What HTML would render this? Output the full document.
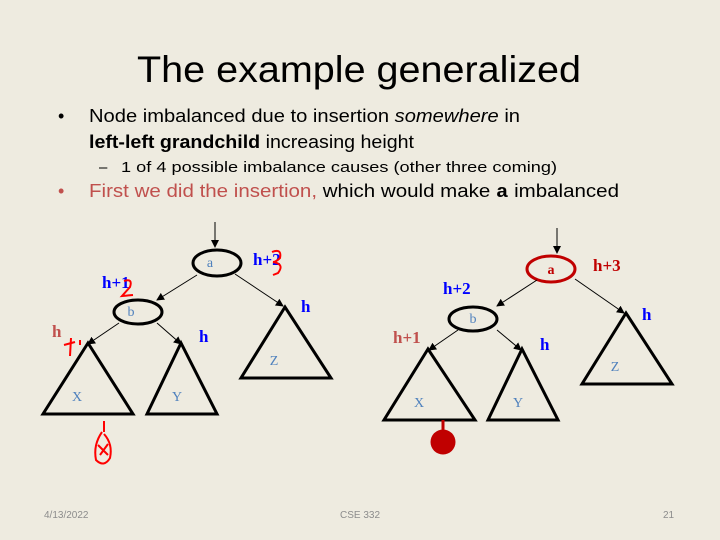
<!DOCTYPE html>
<html><head><style>
body{margin:0;background:#EEEBE0;}
svg{display:block;}
.t{font-family:"Liberation Sans",sans-serif;}
.s{font-family:"Liberation Serif",serif;}
</style></head><body>
<svg width="720" height="540" viewBox="0 0 720 540" xmlns="http://www.w3.org/2000/svg">
<defs><marker id="ar" markerWidth="8" markerHeight="8" refX="7" refY="4" orient="auto" markerUnits="userSpaceOnUse"><path d="M0,0 L8,4 L0,8 z" fill="#000"/></marker></defs>
<rect width="720" height="540" fill="#EEEBE0"/>
<text class="t" x="137" y="82" font-size="37" textLength="444" lengthAdjust="spacingAndGlyphs">The example generalized</text>
<text class="t" x="58" y="122" font-size="18">•</text>
<text class="t" x="89" y="122" font-size="18" textLength="431" lengthAdjust="spacingAndGlyphs">Node imbalanced due to insertion <tspan font-style="italic">somewhere</tspan> in</text>
<text class="t" x="89" y="148" font-size="18" textLength="325" lengthAdjust="spacingAndGlyphs"><tspan font-weight="bold">left-left grandchild</tspan> increasing height</text>
<text class="t" x="99" y="172" font-size="15">–</text>
<text class="t" x="121" y="172" font-size="15" textLength="436" lengthAdjust="spacingAndGlyphs">1 of 4 possible imbalance causes (other three coming)</text>
<text class="t" x="58" y="197" font-size="18" fill="#C0504D">•</text>
<text class="t" x="89" y="197" font-size="18" textLength="530" lengthAdjust="spacingAndGlyphs"><tspan fill="#C0504D">First we did the insertion,</tspan> which would make <tspan font-family="Liberation Mono" font-weight="bold">a</tspan> imbalanced</text>

<!-- left tree -->
<g stroke="#000" fill="none">
<line x1="215" y1="222" x2="215" y2="247" stroke-width="1" marker-end="url(#ar)"/>
<ellipse cx="217" cy="263" rx="24" ry="13" stroke-width="3"/>
<ellipse cx="138" cy="312" rx="24" ry="12" stroke-width="3"/>
<line x1="197" y1="275" x2="157" y2="300" marker-end="url(#ar)"/>
<line x1="235" y1="274" x2="283" y2="306" marker-end="url(#ar)"/>
<line x1="119" y1="323" x2="88" y2="344" marker-end="url(#ar)"/>
<line x1="157" y1="323" x2="181" y2="344" marker-end="url(#ar)"/>
<polygon points="88,343 43,414 133,414" stroke-width="3"/>
<polygon points="181,343 147,414 217,414" stroke-width="3"/>
<polygon points="285,307 241,378 331,378" stroke-width="3"/>
</g>
<g class="s" fill="#4F81BD" font-size="14" text-anchor="middle">
<text x="210" y="267">a</text><text x="131" y="316">b</text>
<text x="77" y="401">X</text><text x="177" y="401">Y</text><text x="274" y="365">Z</text>
</g>
<g class="s" font-weight="bold" font-size="17" fill="#0000FF">
<text x="253" y="265">h+2</text><text x="102" y="288">h+1</text>
<text x="301" y="312">h</text><text x="199" y="342">h</text>
</g>
<text class="s" x="52" y="337" font-size="17" font-weight="bold" fill="#C0504D">h</text>
<g stroke="#FF0000" stroke-width="2" fill="none">
<path d="M272,252 Q282,248 280,258 Q276,262 273,262 Q285,264 278,273 L273,275"/>
<path d="M124,281 Q133,278 130,287 L122,296 L133,295"/>
<path d="M64,345 L75,342 M71,338 L70,356 M80,340 L80,345"/>
<path d="M104,421 L104,432 M102,432 Q93,445 96,460 Q104,468 110,458 Q113,444 104,434 M98,445 L108,455 M100,455 L108,444"/>
</g>

<!-- right tree -->
<g stroke="#000" fill="none">
<line x1="557" y1="228" x2="557" y2="253" marker-end="url(#ar)"/>
<ellipse cx="551" cy="269" rx="24" ry="13" stroke="#C00000" stroke-width="3"/>
<ellipse cx="473" cy="319" rx="24" ry="12" stroke-width="3"/>
<line x1="537" y1="280" x2="497" y2="306" marker-end="url(#ar)"/>
<line x1="575" y1="279" x2="624" y2="313" marker-end="url(#ar)"/>
<line x1="458" y1="330" x2="429" y2="350" marker-end="url(#ar)"/>
<line x1="497" y1="330" x2="521" y2="350" marker-end="url(#ar)"/>
<polygon points="428,349 384,420 475,420" stroke-width="3"/>
<polygon points="522,349 488,420 558,420" stroke-width="3"/>
<polygon points="626,313 582,384 672,384" stroke-width="3"/>
<line x1="443" y1="420" x2="443" y2="432" stroke="#C00000" stroke-width="3"/>
</g>
<circle cx="443" cy="442" r="12.5" fill="#C00000"/>
<text class="s" x="551" y="274" font-size="14" fill="#C00000" text-anchor="middle" font-weight="bold">a</text>
<g class="s" fill="#4F81BD" font-size="14" text-anchor="middle">
<text x="473" y="323">b</text>
<text x="419" y="407">X</text><text x="518" y="407">Y</text><text x="615" y="371">Z</text>
</g>
<g class="s" font-weight="bold" font-size="17" fill="#0000FF">
<text x="443" y="294">h+2</text><text x="642" y="320">h</text><text x="540" y="350">h</text>
</g>
<text class="s" x="593" y="271" font-size="17" font-weight="bold" fill="#C00000">h+3</text>
<text class="s" x="393" y="343" font-size="17" font-weight="bold" fill="#C0504D">h+1</text>

<g class="t" font-size="10" fill="#8C8C8C">
<text x="44" y="518">4/13/2022</text>
<text x="340" y="518">CSE 332</text>
<text x="663" y="518">21</text>
</g>
</svg>
</body></html>
